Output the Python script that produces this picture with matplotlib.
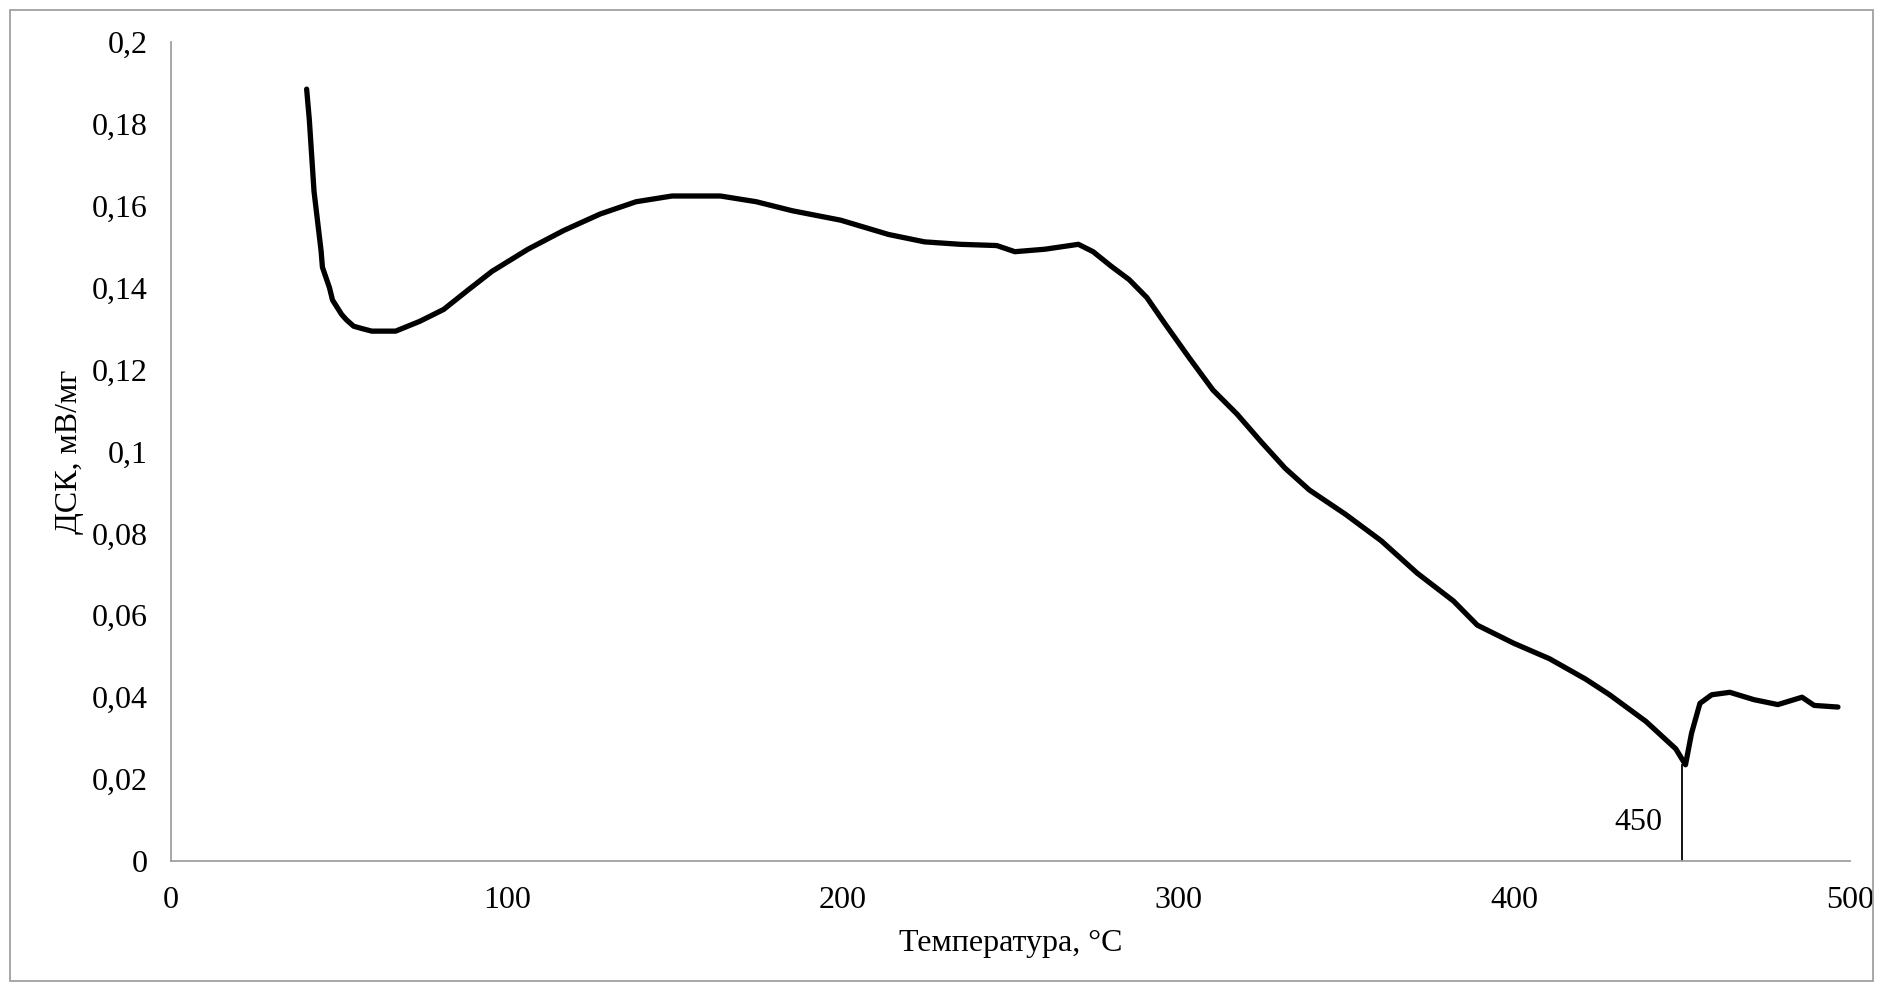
'''
DSC curve (ДСК vs temperature) redrawn from a reference picture.
'''
import matplotlib.pyplot as plt
from matplotlib.patches import Rectangle

# temperature, C and DSC signal, mV/mg
temp = [40.4, 41.2, 42.6, 44.7, 45.1, 47.2, 48.1, 50.8, 52.2, 54.4, 57.0,
        59.8, 66.9, 74.1, 81.2, 88.4, 95.6, 106.3, 117.0, 127.8, 138.5, 149.2,
        163.6, 174.3, 185.0, 199.4, 213.7, 224.4, 235.1, 245.9, 251.3, 260.2,
        270.2, 274.6, 279.9, 285.3, 290.6, 296.0, 303.2, 310.3, 317.5, 324.6,
        331.8, 339.0, 349.7, 360.4, 371.1, 381.9, 389.0, 399.8, 410.5, 421.3,
        428.4, 439.2, 448.1, 451.0, 452.8, 455.3, 458.8, 464.2, 471.4, 478.5,
        485.7, 489.3, 496.4]
dsc = [0.1885, 0.181, 0.1635, 0.149, 0.145, 0.140, 0.137, 0.1335, 0.1322,
       0.1306, 0.1300, 0.1294, 0.1294, 0.1318, 0.1347, 0.1394, 0.144, 0.1494,
       0.154, 0.158, 0.161, 0.1624, 0.1624, 0.161, 0.1588, 0.1565, 0.153,
       0.1512, 0.1506, 0.1503, 0.1488, 0.1494, 0.1506, 0.1488, 0.1453, 0.142,
       0.1376, 0.1312, 0.1229, 0.115, 0.1091, 0.1024, 0.0959, 0.0906, 0.0847,
       0.0782, 0.0703, 0.0635, 0.0576, 0.0532, 0.0494, 0.0444, 0.0406, 0.0341,
       0.0274, 0.0235, 0.0312, 0.0385, 0.0406, 0.0412, 0.0394, 0.0382, 0.040,
       0.038, 0.0376]

xticks = [0, 100, 200, 300, 400, 500]
yticks = [0, 0.02, 0.04, 0.06, 0.08, 0.1, 0.12, 0.14, 0.16, 0.18, 0.2]
ylabels = ['0', '0,02', '0,04', '0,06', '0,08', '0,1', '0,12', '0,14',
           '0,16', '0,18', '0,2']
peak_t = 450
peak_v = 0.0235

plt.rcParams['font.family'] = ['Liberation Serif', 'DejaVu Serif']

fig = plt.figure(figsize=(18.83, 9.89), dpi=100)
ax = fig.add_axes([0.0908, 0.1294, 0.8917, 0.8281])

ax.plot(temp, dsc, color='black', linewidth=3.8, solid_capstyle='round',
        solid_joinstyle='round')

# marker line for the peak
ax.plot([peak_t, peak_t], [0, peak_v], color='black', linewidth=1.3)
ax.text(peak_t - 6, 0.0094, str(peak_t), ha='right', va='center', fontsize=23)

ax.set_xlim(0, 500)
ax.set_ylim(0, 0.2)
ax.set_xticks(xticks)
ax.set_xticklabels([str(t) for t in xticks])
ax.set_yticks(yticks)
ax.set_yticklabels(ylabels)
ax.tick_params(length=0, labelsize=23)
ax.tick_params(axis='y', pad=17)
ax.tick_params(axis='x', pad=18)

for s in ['top', 'right']:
    ax.spines[s].set_visible(False)
for s in ['left', 'bottom']:
    ax.spines[s].set_color('#A0A0A0')
    ax.spines[s].set_linewidth(1.3)

ax.set_xlabel('Температура, °C', fontsize=23, labelpad=10)
ax.set_ylabel('ДСК, мВ/мг', fontsize=23, labelpad=5)

# outer frame around the whole chart
fig.patches.append(Rectangle((10/1883, 8/989), 1 - 20/1883, 1 - 18/989,
                             transform=fig.transFigure, fill=False,
                             edgecolor='#A0A0A0', linewidth=1.3))

fig.savefig('out.png')
